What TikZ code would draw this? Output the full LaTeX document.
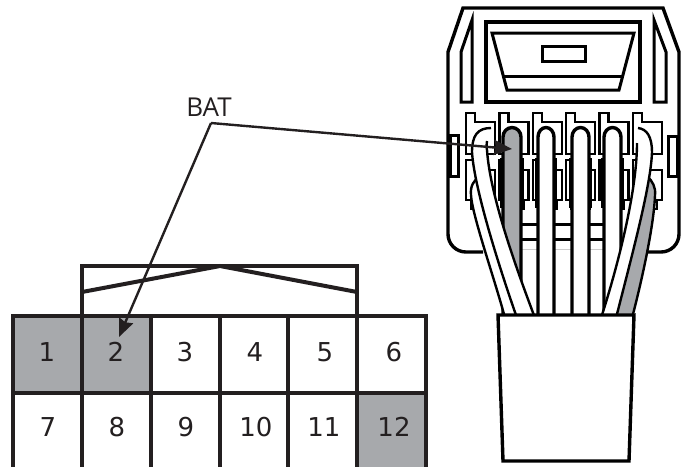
\documentclass[tikz,border=0pt]{standalone}
\usepackage{fontspec}
\setmainfont{DejaVu Sans}
\newfontfamily\batfont{Open Sans}
\usetikzlibrary{arrows.meta}
\definecolor{ink}{HTML}{231F20}
\definecolor{pingray}{HTML}{A7A9AC}
\tikzset{
  x=1pt,y=-1pt,
  line join=miter,
  heavy/.style={draw=ink,line width=4pt},
  hous/.style={draw=black,line width=3pt,fill=white},
  fine/.style={draw=black,line width=2.5pt,fill=white},
  wire/.style={draw=black,line width=2.4pt,fill=white},
  num/.style={font=\fontsize{26}{26}\selectfont,text=ink,inner sep=0pt,anchor=center},
  lead/.style={draw=ink,line width=2.4pt},
  tip/.style={-{Stealth[length=18pt,width=15pt,inset=2pt]}},
}
\newcommand{\uppertooth}[1]{\draw[fine] (#1,113)--(#1+9,113)--(#1+9,122)--(#1+29,122)--(#1+29,154)--(#1,154)--cycle;}
\newcommand{\lowertooth}[1]{\draw[fine] (#1,160)--(#1+9,160)--(#1+9,170)--(#1+29,170)--(#1+29,200)--(#1+24,200)--(#1+24,209)--(#1+5,209)--(#1+5,200)--(#1,200)--cycle;}
\newcommand{\straightwire}[3]{\draw[wire,line width=3.4pt,fill=#3] (#1,318)--(#1,137) arc[start angle=180,end angle=360,x radius=(#2-#1)/2,y radius=9.5]--(#2,318);
  \draw[black,line width=2.6pt] (#1-2,158)--(#1-2,208) (#2+2,158)--(#2+2,208);}
\begin{document}
\begin{tikzpicture}
\useasboundingbox (0,0) rectangle (682,467);
% --- housing
\draw[hous,line width=3.4pt] (483,252)--(466,252) .. controls (456,252) and (448,244) .. (448,234)--(448,52)--(463,8)--(663,8)--(679,52)--(679,234) .. controls (679,244) and (671,252) .. (661,252)--(645,252);
\draw[hous] (472,20)--(461,52)--(461,102)--(472,102)--cycle;
\draw[hous] (654,20)--(666,52)--(666,102)--(654,102)--cycle;
\draw[hous,line width=3.4pt] (486,22) rectangle (640,102);
\draw[hous] (492,33)--(634,33)--(619,90)--(507,90)--cycle;
\draw[black,line width=3pt] (503,76)--(622,76);
\draw[hous] (542,46) rectangle (585,61);
\draw[hous] (450,135) rectangle (458,176);
\draw[hous] (668,136) rectangle (677,176);
% --- terminals
\foreach \t in {466,499.4,532.8,566.2,599.6,633}{\uppertooth{\t}\lowertooth{\t}}
\draw[black,line width=3pt] (518,224)--(606,224) (518,239)--(606,239);
\draw[black!20,line width=0.8pt] (520,249)--(604,249);
% --- wires
\straightwire{503}{521}{pingray}
\straightwire{538}{554}{white}
\straightwire{572}{589}{white}
\straightwire{604}{621}{white}
% lower crossing wires
\draw[wire] (471,195) .. controls (470,186) and (474,180) .. (480,176) -- (530,318) -- (505,318) .. controls (495,280) and (472,215) .. (471,195)--cycle;
\draw[wire,fill=pingray] (655,195) .. controls (656,187) and (652,181) .. (648,177) -- (610,318) -- (632,318) .. controls (642,280) and (654,225) .. (655,195)--cycle;
% upper crossing wires
\draw[wire] (491,128) .. controls (478,128) and (472,135) .. (472,152) .. controls (474,185) and (495,255) .. (517,318) -- (535,318) .. controls (515,265) and (490,195) .. (487,150) .. controls (486,146) and (487,143) .. (487,141);
\draw[wire] (638,128) .. controls (647,129) and (652,137) .. (652,152) .. controls (651,185) and (632,255) .. (616,318) -- (601,318) .. controls (615,275) and (637,195) .. (637,143);
% --- plug body
\draw[hous,line width=3.4pt] (498,315)--(634,315)--(629,461)--(503,461)--cycle;
% --- pin grid
\fill[pingray] (13,316) rectangle (151,393);
\fill[pingray] (357,393) rectangle (426,467);
\draw[heavy] (82,316)--(82,266)--(357,266)--(357,316);
\draw[heavy] (82,292)--(220,266)--(357,292);
\draw[heavy] (11,316)--(428,316);
\draw[heavy] (13,393)--(426,393);
\foreach \vx in {13,82,151,220,288,357,426}{\draw[heavy] (\vx,316)--(\vx,467);}
\node[num] (p1) at (47,352) {1};
\node[num] (p2) at (116,352) {2};
\node[num] (p3) at (185,352) {3};
\node[num] (p4) at (255,352) {4};
\node[num] (p5) at (325,352) {5};
\node[num] (p6) at (394,352) {6};
\node[num] (p7) at (48,427) {7};
\node[num] (p8) at (117,427) {8};
\node[num] (p9) at (186,427) {9};
\node[num] (p10) at (256,427) {10};
\node[num] (p11) at (324,427) {11};
\node[num] (p12) at (394,427) {12};
% --- label and leaders
\node[font=\batfont\fontsize{26}{26}\selectfont,text=ink,inner sep=0pt] (bat) at (209,107) {BAT};
\coordinate (corner) at (211,123);
\coordinate (termtip) at (512,149);
\coordinate (pintip) at (119,337);
\draw[lead,tip] (corner)--(termtip);
\draw[lead,tip] (corner)--(pintip);
\end{tikzpicture}
\end{document}
